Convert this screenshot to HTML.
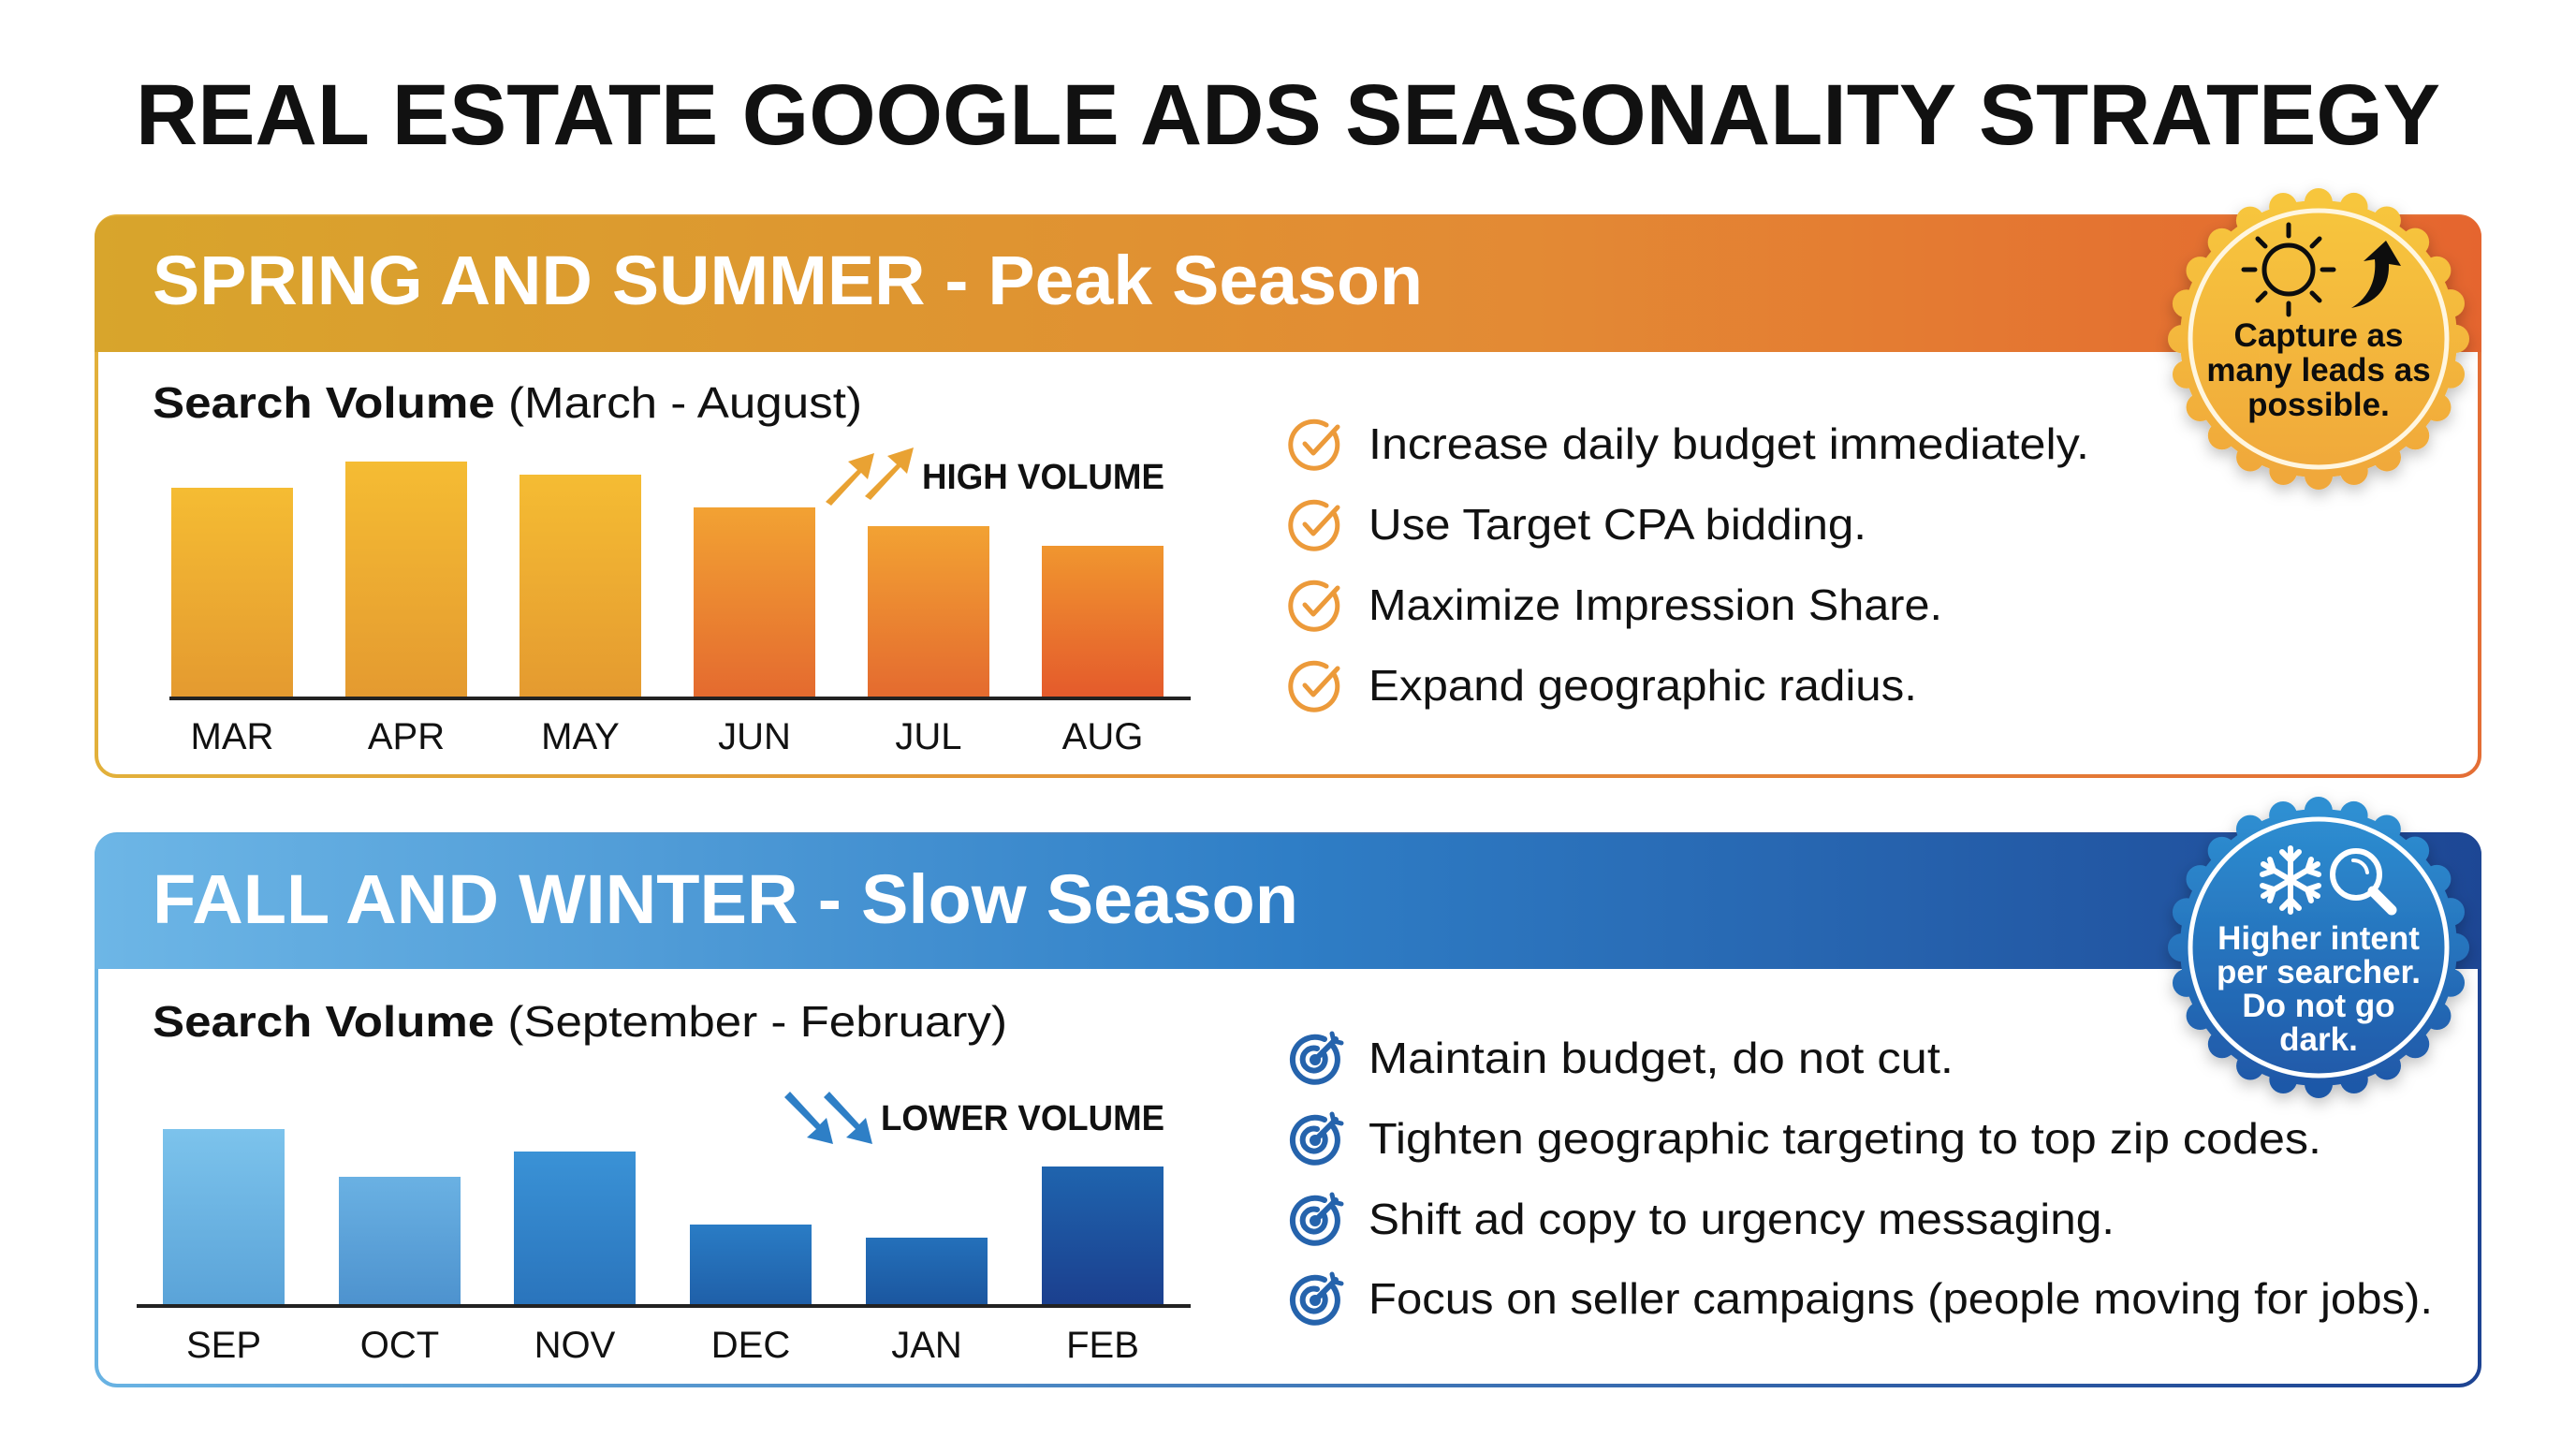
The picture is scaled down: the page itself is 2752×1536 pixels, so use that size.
<!DOCTYPE html>
<html><head><meta charset="utf-8"><style>
html,body{margin:0;padding:0;background:#fff}
svg{display:block}
text{font-family:"Liberation Sans","DejaVu Sans",sans-serif}
</style></head><body>
<svg width="2752" height="1536" viewBox="0 0 2752 1536" xmlns="http://www.w3.org/2000/svg">
<defs>
<linearGradient id="hTop" x1="0" x2="1" y1="0" y2="0"><stop offset="0" stop-color="#D8A52C"/><stop offset="0.6" stop-color="#E38A34"/><stop offset="1" stop-color="#E5652F"/></linearGradient>
<linearGradient id="bTop" x1="0" x2="1"><stop offset="0" stop-color="#E2B03A"/><stop offset="1" stop-color="#E46E35"/></linearGradient>
<linearGradient id="hBot" x1="0" x2="1"><stop offset="0" stop-color="#6DB6E6"/><stop offset="0.5" stop-color="#2F7EC6"/><stop offset="1" stop-color="#1D4795"/></linearGradient>
<linearGradient id="bBot" x1="0" x2="1"><stop offset="0" stop-color="#69B3E3"/><stop offset="1" stop-color="#1D4392"/></linearGradient>
<linearGradient id="barO" x1="0" x2="0" y1="0" y2="1"><stop offset="0" stop-color="#F5BC33"/><stop offset="1" stop-color="#E49A30"/></linearGradient>
<linearGradient id="barO2" x1="0" x2="0" y1="0" y2="1"><stop offset="0" stop-color="#F2A233"/><stop offset="1" stop-color="#E46A2F"/></linearGradient>
<linearGradient id="barO3" x1="0" x2="0" y1="0" y2="1"><stop offset="0" stop-color="#F0962F"/><stop offset="1" stop-color="#E45A2C"/></linearGradient>
<linearGradient id="bl1" x1="0" x2="0" y1="0" y2="1"><stop offset="0" stop-color="#7CC3EC"/><stop offset="1" stop-color="#5AA3D8"/></linearGradient>
<linearGradient id="bl2" x1="0" x2="0" y1="0" y2="1"><stop offset="0" stop-color="#6AB1E3"/><stop offset="1" stop-color="#4D92CE"/></linearGradient>
<linearGradient id="bl3" x1="0" x2="0" y1="0" y2="1"><stop offset="0" stop-color="#3A92D6"/><stop offset="1" stop-color="#2A74BC"/></linearGradient>
<linearGradient id="bl4" x1="0" x2="0" y1="0" y2="1"><stop offset="0" stop-color="#2A7CC5"/><stop offset="1" stop-color="#1F5FA8"/></linearGradient>
<linearGradient id="bl5" x1="0" x2="0" y1="0" y2="1"><stop offset="0" stop-color="#2470BA"/><stop offset="1" stop-color="#1B569F"/></linearGradient>
<linearGradient id="bl6" x1="0" x2="0" y1="0" y2="1"><stop offset="0" stop-color="#1F64AE"/><stop offset="1" stop-color="#1B3F8E"/></linearGradient>
<linearGradient id="gold" x1="0" x2="0" y1="0" y2="1"><stop offset="0" stop-color="#F7C63E"/><stop offset="1" stop-color="#F0A83A"/></linearGradient>
<linearGradient id="blue" x1="0" x2="0" y1="0" y2="1"><stop offset="0" stop-color="#2E8FD2"/><stop offset="1" stop-color="#1F58A8"/></linearGradient>
<filter id="sh" x="-20%" y="-20%" width="140%" height="140%"><feDropShadow dx="0" dy="6" stdDeviation="8" flood-opacity="0.25"/></filter>
</defs>

<text x="1376" y="154" text-anchor="middle" font-size="92" font-weight="bold" fill="#111" textLength="2462" lengthAdjust="spacingAndGlyphs">REAL ESTATE GOOGLE ADS SEASONALITY STRATEGY</text>

<!-- TOP PANEL -->
<rect x="103" y="231" width="2546" height="598" rx="22" fill="#fff" stroke="url(#bTop)" stroke-width="4"/>
<path d="M101 376 V253 a22 22 0 0 1 22 -22 H2629 a22 22 0 0 1 22 22 V376 Z" fill="url(#hTop)"/>
<text x="163" y="325" font-size="74" font-weight="bold" fill="#fff" textLength="1357" lengthAdjust="spacingAndGlyphs">SPRING AND SUMMER - Peak Season</text>
<text x="163" y="446" font-size="46" fill="#111" textLength="758" lengthAdjust="spacingAndGlyphs"><tspan font-weight="bold">Search Volume</tspan> (March - August)</text>

<rect x="183" y="521" width="130" height="225" fill="url(#barO)"/>
<rect x="369" y="493" width="130" height="253" fill="url(#barO)"/>
<rect x="555" y="507" width="130" height="239" fill="url(#barO)"/>
<rect x="741" y="542" width="130" height="204" fill="url(#barO2)"/>
<rect x="927" y="562" width="130" height="184" fill="url(#barO2)"/>
<rect x="1113" y="583" width="130" height="163" fill="url(#barO3)"/>
<line x1="181" y1="746" x2="1272" y2="746" stroke="#222" stroke-width="4"/>
<g font-size="40" fill="#111" text-anchor="middle">
<text x="248" y="800">MAR</text><text x="434" y="800">APR</text><text x="620" y="800">MAY</text><text x="806" y="800">JUN</text><text x="992" y="800">JUL</text><text x="1178" y="800">AUG</text></g>
<text x="985" y="522" font-size="38" font-weight="bold" fill="#111" textLength="259" lengthAdjust="spacingAndGlyphs">HIGH VOLUME</text>
<g fill="#E9A233"><path d="M882 536 L916 502 L906 493 L934 484 L927 512 L920 505 L888 540 Z"/><path d="M924 530 L958 496 L948 487 L976 478 L969 506 L962 499 L930 534 Z"/></g>

<g font-size="46" fill="#111">
<text x="1462" y="490" textLength="770" lengthAdjust="spacingAndGlyphs">Increase daily budget immediately.</text>
<text x="1462" y="576" textLength="532" lengthAdjust="spacingAndGlyphs">Use Target CPA bidding.</text>
<text x="1462" y="662" textLength="613" lengthAdjust="spacingAndGlyphs">Maximize Impression Share.</text>
<text x="1462" y="748" textLength="586" lengthAdjust="spacingAndGlyphs">Expand geographic radius.</text></g>
<g fill="none" stroke="#EC9A3A" stroke-width="5" stroke-linecap="round" stroke-linejoin="round">
<g transform="translate(1405,474)"><path d="M20 -12 A25 25 0 1 1 12 -20"/><path d="M-11 0 L-2 10 L24 -18"/></g>
<g transform="translate(1405,560)"><path d="M20 -12 A25 25 0 1 1 12 -20"/><path d="M-11 0 L-2 10 L24 -18"/></g>
<g transform="translate(1405,646)"><path d="M20 -12 A25 25 0 1 1 12 -20"/><path d="M-11 0 L-2 10 L24 -18"/></g>
<g transform="translate(1405,732)"><path d="M20 -12 A25 25 0 1 1 12 -20"/><path d="M-11 0 L-2 10 L24 -18"/></g></g>

<!-- BOTTOM PANEL -->
<rect x="103" y="891" width="2546" height="589" rx="22" fill="#fff" stroke="url(#bBot)" stroke-width="4"/>
<path d="M101 1035 V913 a22 22 0 0 1 22 -22 H2629 a22 22 0 0 1 22 22 V1035 Z" fill="url(#hBot)"/>
<text x="163" y="986" font-size="74" font-weight="bold" fill="#fff" textLength="1224" lengthAdjust="spacingAndGlyphs">FALL AND WINTER - Slow Season</text>
<text x="163" y="1107" font-size="46" fill="#111" textLength="913" lengthAdjust="spacingAndGlyphs"><tspan font-weight="bold">Search Volume</tspan> (September - February)</text>

<rect x="174" y="1206" width="130" height="189" fill="url(#bl1)"/>
<rect x="362" y="1257" width="130" height="138" fill="url(#bl2)"/>
<rect x="549" y="1230" width="130" height="165" fill="url(#bl3)"/>
<rect x="737" y="1308" width="130" height="87" fill="url(#bl4)"/>
<rect x="925" y="1322" width="130" height="73" fill="url(#bl5)"/>
<rect x="1113" y="1246" width="130" height="149" fill="url(#bl6)"/>
<line x1="146" y1="1395" x2="1272" y2="1395" stroke="#222" stroke-width="4"/>
<g font-size="40" fill="#111" text-anchor="middle">
<text x="239" y="1450">SEP</text><text x="427" y="1450">OCT</text><text x="614" y="1450">NOV</text><text x="802" y="1450">DEC</text><text x="990" y="1450">JAN</text><text x="1178" y="1450">FEB</text></g>
<text x="941" y="1207" font-size="38" font-weight="bold" fill="#111" textLength="303" lengthAdjust="spacingAndGlyphs">LOWER VOLUME</text>
<g fill="#2E7FC6"><path d="M838 1172 L872 1206 L862 1215 L890 1222 L883 1194 L876 1201 L844 1166 Z"/><path d="M880 1172 L914 1206 L904 1215 L932 1222 L925 1194 L918 1201 L886 1166 Z"/></g>

<g font-size="46" fill="#111">
<text x="1462" y="1146" textLength="625" lengthAdjust="spacingAndGlyphs">Maintain budget, do not cut.</text>
<text x="1462" y="1232" textLength="1018" lengthAdjust="spacingAndGlyphs">Tighten geographic targeting to top zip codes.</text>
<text x="1462" y="1318" textLength="797" lengthAdjust="spacingAndGlyphs">Shift ad copy to urgency messaging.</text>
<text x="1462" y="1403" textLength="1137" lengthAdjust="spacingAndGlyphs">Focus on seller campaigns (people moving for jobs).</text></g>
<g fill="none" stroke="#2563AC" stroke-width="6" stroke-linecap="round">
<g transform="translate(1405,1132)"><path d="M18 -16 A24 24 0 1 1 10 -22"/><path d="M8 -8 A12 12 0 1 1 2 -12"/><circle r="3" fill="#2563AC"/><path d="M0 0 L22 -22"/><path d="M18 -28 L20 -20 L28 -18" stroke-width="5"/></g>
<g transform="translate(1405,1218)"><path d="M18 -16 A24 24 0 1 1 10 -22"/><path d="M8 -8 A12 12 0 1 1 2 -12"/><circle r="3" fill="#2563AC"/><path d="M0 0 L22 -22"/><path d="M18 -28 L20 -20 L28 -18" stroke-width="5"/></g>
<g transform="translate(1405,1304)"><path d="M18 -16 A24 24 0 1 1 10 -22"/><path d="M8 -8 A12 12 0 1 1 2 -12"/><circle r="3" fill="#2563AC"/><path d="M0 0 L22 -22"/><path d="M18 -28 L20 -20 L28 -18" stroke-width="5"/></g>
<g transform="translate(1405,1389)"><path d="M18 -16 A24 24 0 1 1 10 -22"/><path d="M8 -8 A12 12 0 1 1 2 -12"/><circle r="3" fill="#2563AC"/><path d="M0 0 L22 -22"/><path d="M18 -28 L20 -20 L28 -18" stroke-width="5"/></g></g>

<!-- BADGE TOP -->
<g transform="translate(2477,362)" filter="url(#sh)">
<circle r="148" fill="url(#gold)"/>
<circle r="146" fill="none" stroke="url(#gold)" stroke-width="30" stroke-dasharray="0 38.2" stroke-linecap="round"/>
<circle r="137" fill="none" stroke="#FFF6E0" stroke-width="5"/>
<g transform="translate(-32,-74)" stroke="#111" stroke-width="5" fill="none" stroke-linecap="round">
<circle r="26"/>
<path d="M0 -36 V-48 M0 36 V48 M-36 0 H-48 M36 0 H48 M25 -25 L33 -33 M-25 -25 L-33 -33 M25 25 L33 33 M-25 25 L-33 33"/></g>
<path d="M35 -33 C55 -45 62 -65 60 -85 L48 -83 L72 -105 L88 -78 L75 -80 C76 -55 62 -38 35 -33 Z" fill="#111"/>
<g font-size="35" font-weight="bold" fill="#111" text-anchor="middle">
<text y="8">Capture as</text><text y="45">many leads as</text><text y="82">possible.</text></g>
</g>

<!-- BADGE BOTTOM -->
<g transform="translate(2477,1012)" filter="url(#sh)">
<circle r="148" fill="url(#blue)"/>
<circle r="146" fill="none" stroke="url(#blue)" stroke-width="30" stroke-dasharray="0 38.2" stroke-linecap="round"/>
<circle r="137" fill="none" stroke="#fff" stroke-width="5"/>
<g transform="translate(-30,-72)" stroke="#fff" stroke-width="6" fill="none" stroke-linecap="round">
<path d="M0 -34 V34 M-29 -17 L29 17 M-29 17 L29 -17"/>
<path d="M-9 -30 L0 -21 L9 -30 M-9 30 L0 21 L9 30 M-30 -6 L-18 -10 L-22 -22 M30 6 L18 10 L22 22 M-30 6 L-18 10 L-22 22 M30 -6 L18 -10 L22 -22"/></g>
<g transform="translate(40,-78)" stroke="#fff" fill="none" stroke-linecap="round">
<circle r="25" stroke-width="6"/>
<path d="M18 18 L38 38" stroke-width="11"/>
<path d="M-3 -15 A15 15 0 0 1 12 -2" stroke-width="4"/></g>
<g font-size="35" font-weight="bold" fill="#fff" text-anchor="middle">
<text y="2">Higher intent</text><text y="38">per searcher.</text><text y="74">Do not go</text><text y="110">dark.</text></g>
</g>
</svg>
</body></html>
